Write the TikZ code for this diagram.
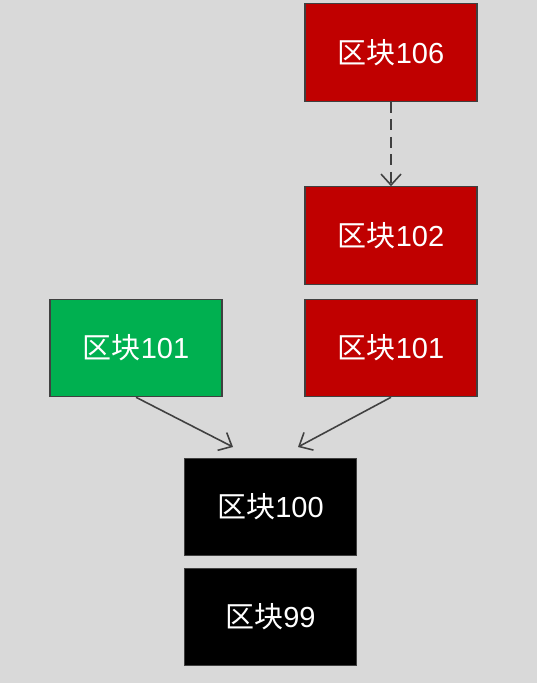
\documentclass[tikz,border=0pt]{standalone}
\usepackage{fontspec}
\setmainfont{Liberation Sans}
\newfontfamily\cjk{Noto Sans CJK SC}
\usetikzlibrary{arrows.meta}
\definecolor{bggray}{HTML}{D9D9D9}
\definecolor{blockred}{HTML}{C00000}
\definecolor{blockgreen}{HTML}{00B050}
\definecolor{edgegray}{HTML}{404040}
\tikzset{
	block/.style={draw=edgegray, line width=0.6pt, minimum width=3.44cm, minimum height=1.95cm, text=white, font=\fontsize{16.5}{19}\selectfont},
	link/.style={draw=edgegray, line width=0.9pt, -{Straight Barb[length=2.2mm, width=4mm]}}
}
\newcommand{\blk}[1]{{\cjk 区块}#1}
\begin{document}
	\begin{tikzpicture}
		\fill[bggray] (0,0) rectangle (10.74,-13.66);
		\useasboundingbox (0,0) rectangle (10.74,-13.66);

		\node[block, fill=blockred] (b106) at (7.82,-1.05) {\blk{106}};
		\node[block, fill=blockred] (b102) at (7.82,-4.71) {\blk{102}};
		\node[block, fill=blockred] (r101) at (7.82,-6.96) {\blk{101}};
		\node[block, fill=blockgreen] (g101) at (2.72,-6.96) {\blk{101}};
		\node[block, fill=black] (b100) at (5.41,-10.14) {\blk{100}};
		\node[block, fill=black] (b99) at (5.41,-12.34) {\blk{99}};

		\coordinate (tipg) at (4.66,-8.94);
		\coordinate (tipr) at (5.96,-8.94);

		\draw[link, dashed, dash pattern=on 2.2mm off 1.3mm] (b106) -- (b102);
		\draw[link] (g101.south) -- (tipg);
		\draw[link] (r101.south) -- (tipr);
	\end{tikzpicture}
\end{document}
